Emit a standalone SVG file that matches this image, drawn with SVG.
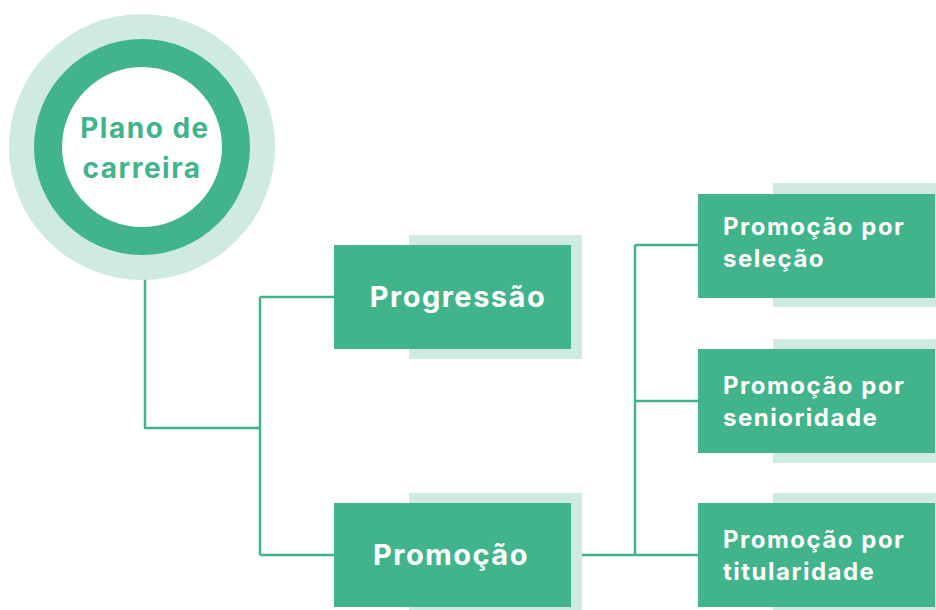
<svg xmlns="http://www.w3.org/2000/svg" width="936" height="610" viewBox="0 0 936 610">
<style>
.dark{fill:#41b48b}
.light{fill:#cfeae0}
.conn{fill:none;stroke:#41b48b;stroke-width:2.5}
.lbl{font-family:Inter,"Noto Sans",sans-serif;font-weight:700;fill:#ffffff}
.big{font-size:29px;text-anchor:middle;letter-spacing:1.5px}
.small{font-size:24px;letter-spacing:1.5px}
.ctr{font-family:Inter,"Noto Sans",sans-serif;font-weight:700;fill:#41b48b;font-size:28px;text-anchor:middle;letter-spacing:1.5px}
</style>
<rect width="936" height="610" fill="#ffffff"/>
<g id="connectors">
<path class="conn" d="M145 255 V428 H260"/>
<path class="conn" d="M260 297 V555"/>
<path class="conn" d="M260 297 H334"/>
<path class="conn" d="M260 555 H334"/>
<path class="conn" d="M571 555 H698"/>
<path class="conn" d="M635 245 V555"/>
<path class="conn" d="M635 245 H698"/>
<path class="conn" d="M635 401 H698"/>
</g>
<g id="plano">
<circle class="light" cx="142" cy="147" r="133"/>
<circle class="dark" cx="142" cy="147" r="108"/>
<circle fill="#ffffff" cx="142" cy="147" r="80"/>
<text class="ctr" x="145" y="138">Plano de</text>
<text class="ctr" x="142" y="178">carreira</text>
</g>
<g id="progressao">
<rect class="light" x="409" y="235" width="173" height="124"/>
<rect class="dark" x="334" y="245" width="237" height="104"/>
<text class="lbl big" x="458" y="307">Progressão</text>
</g>
<g id="promocao">
<rect class="light" x="409" y="493" width="173" height="124"/>
<rect class="dark" x="334" y="503" width="237" height="104"/>
<text class="lbl big" x="451" y="565">Promoção</text>
</g>
<g id="selecao">
<rect class="light" x="773" y="183" width="175" height="124"/>
<rect class="dark" x="698" y="194" width="237" height="104"/>
<text class="lbl small" x="723" y="235">Promoção por</text>
<text class="lbl small" x="723" y="267">seleção</text>
</g>
<g id="senioridade">
<rect class="light" x="773" y="339" width="175" height="124"/>
<rect class="dark" x="698" y="349" width="237" height="104"/>
<text class="lbl small" x="723" y="394">Promoção por</text>
<text class="lbl small" x="723" y="426">senioridade</text>
</g>
<g id="titularidade">
<rect class="light" x="773" y="493" width="175" height="124"/>
<rect class="dark" x="698" y="503" width="237" height="104"/>
<text class="lbl small" x="723" y="548">Promoção por</text>
<text class="lbl small" x="723" y="580">titularidade</text>
</g>
</svg>
